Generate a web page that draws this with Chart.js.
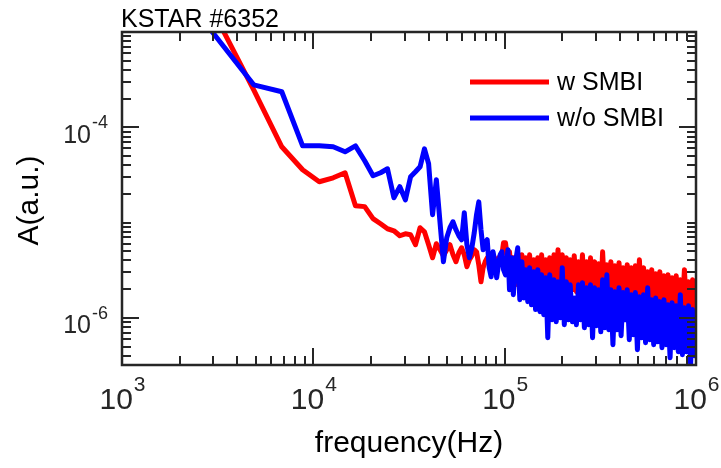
<!DOCTYPE html>
<html lang="en">
<head>
  <meta charset="UTF-8">
  <title>KSTAR #6352 spectrum</title>
  <script src="https://cdn.jsdelivr.net/npm/chart.js"></script>
  <style>
    body {
      margin: 0;
      background-color: #ffffff;
    }
    canvas {
      display: block;
    }
  </style>
</head>
<body>
  <canvas id="spectrumChart" width="721" height="468"></canvas>

  <script>
    // frequency grid in kHz (low part follows FFT bins, high part thinned out)
    const freqLow = [2.93, 4.88, 6.84, 8.79, 10.74, 12.70, 14.65, 16.60, 18.55, 20.51,
      22.46, 24.41, 26.37, 28.32, 30.27, 32.23, 34.18, 36.13, 38.09, 40.04,
      41.99, 43.95, 45.90, 47.85, 49.80, 51.76, 53.71, 55.66, 57.62, 59.57,
      61.52, 63.48, 65.43, 67.38, 69.34, 71.29, 73.24, 75.20, 77.15, 79.10,
      81.05, 83.01, 84.96, 86.91, 88.87, 90.82, 92.77, 94.73, 96.68, 98.63];
    const freqHigh = [101, 104, 106, 109, 111, 114, 117, 120, 123, 126,
      129, 132, 135, 138, 142, 145, 149, 153, 156, 160,
      164, 168, 172, 177, 181, 186, 190, 195, 200, 205,
      210, 215, 220, 226, 231, 237, 243, 249, 255, 261,
      268, 274, 281, 288, 295, 302, 310, 318, 325, 334,
      342, 350, 359, 368, 377, 386, 396, 406, 416, 426,
      437, 448, 459, 470, 482, 494, 506, 519, 532, 545,
      559, 573, 587, 601, 616, 632, 647, 664, 680, 697,
      714, 732, 750, 769, 788, 808, 828, 849, 870, 892,
      914, 937, 960, 984, 1000];

    // w SMBI (red)
    const smbiLow = [1.8e-3, 2.47e-4, 6.24e-5, 3.58e-5, 2.68e-5, 2.95e-5, 3.33e-5, 1.50e-5, 1.47e-5, 1.10e-5,
      9.71e-6, 8.61e-6, 8.20e-6, 7.27e-6, 7.62e-6, 7.45e-6, 5.85e-6, 8.82e-6, 8.0e-6, 5.85e-6,
      4.27e-6, 6.0e-6, 5.19e-6, 4.49e-6, 5.19e-6, 5.85e-6, 4.59e-6, 3.88e-6, 4.82e-6, 5.44e-6,
      4.59e-6, 3.44e-6, 4.07e-6, 4.49e-6, 5.19e-6, 4.94e-6, 3.6e-6, 2.39e-6, 3.36e-6, 3.88e-6,
      4.27e-6, 3.88e-6, 3.2e-6, 4.59e-6, 3.88e-6, 3.36e-6, 4.27e-6, 3.88e-6, 4.59e-6, 6.14e-6];
    const smbiHigh = [6.14e-6, 3.88e-6, 4.94e-6, 2.51e-6, 4.27e-6, 2.22e-6, 3.88e-6, 2.39e-6, 4.59e-6, 2.22e-6,
      4.27e-6, 2.07e-6, 4.59e-6, 2.22e-6, 4.07e-6, 2.07e-6, 4.27e-6, 2.22e-6, 4.59e-6, 1.97e-6,
      4.07e-6, 2.07e-6, 4.27e-6, 1.97e-6, 4.59e-6, 2.07e-6, 5.19e-6, 1.88e-6, 4.59e-6, 1.97e-6,
      4.27e-6, 1.88e-6, 4.07e-6, 1.97e-6, 4.49e-6, 1.88e-6, 3.88e-6, 1.97e-6, 4.59e-6, 1.75e-6,
      3.88e-6, 1.88e-6, 4.27e-6, 1.75e-6, 3.88e-6, 1.88e-6, 3.70e-6, 1.75e-6, 4.94e-6, 1.62e-6,
      3.61e-6, 1.75e-6, 3.88e-6, 1.62e-6, 3.52e-6, 1.71e-6, 3.79e-6, 1.55e-6, 3.36e-6, 1.62e-6,
      3.61e-6, 1.55e-6, 3.36e-6, 1.48e-6, 3.52e-6, 1.55e-6, 4.07e-6, 1.44e-6, 3.36e-6, 1.48e-6,
      3.05e-6, 1.37e-6, 3.20e-6, 1.44e-6, 2.91e-6, 1.37e-6, 3.05e-6, 1.31e-6, 2.77e-6, 1.08e-6,
      2.83e-6, 1.28e-6, 2.64e-6, 1.31e-6, 2.77e-6, 1.22e-6, 2.51e-6, 1.28e-6, 3.20e-6, 1.16e-6,
      2.39e-6, 1.22e-6, 2.51e-6, 1.11e-6, 2.22e-6];

    // w/o SMBI (blue)
    const noSmbiLow = [1.03e-3, 2.79e-4, 2.36e-4, 6.39e-5, 6.39e-5, 6.24e-5, 5.53e-5, 6.39e-5, 4.45e-5, 3.10e-5,
      3.33e-5, 3.67e-5, 1.82e-5, 2.38e-5, 1.73e-5, 3.03e-5, 3.41e-5, 3.85e-5, 5.94e-5, 4.14e-5,
      1.21e-5, 2.81e-5, 1.02e-5, 3.88e-6, 6.93e-6, 8.82e-6, 1.02e-5, 8.40e-6, 7.27e-6, 6.60e-6,
      1.27e-5, 5.85e-6, 4.27e-6, 5.44e-6, 7.82e-6, 1.21e-5, 1.65e-5, 8.4e-6, 5.19e-6, 6.14e-6,
      6.60e-6, 3.36e-6, 2.70e-6, 4.94e-6, 3.88e-6, 2.64e-6, 3.60e-6, 4.59e-6, 4.94e-6, 3.20e-6];
    const noSmbiHigh = [2.83e-6, 5.19e-6, 1.97e-6, 4.27e-6, 1.75e-6, 3.88e-6, 5.44e-6, 1.55e-6, 3.88e-6, 1.62e-6,
      3.20e-6, 1.48e-6, 3.36e-6, 1.37e-6, 3.05e-6, 1.22e-6, 3.20e-6, 1.16e-6, 2.83e-6, 1.08e-6,
      2.64e-6, 6.18e-7, 2.83e-6, 9.55e-7, 2.51e-6, 9.10e-7, 2.39e-6, 1.00e-6, 3.36e-6, 8.47e-7,
      2.39e-6, 9.55e-7, 2.22e-6, 9.10e-7, 1.62e-6, 8.47e-7, 2.22e-6, 9.55e-7, 2.34e-6, 7.87e-7,
      2.07e-6, 8.47e-7, 2.22e-6, 6.18e-7, 2.07e-6, 8.27e-7, 1.97e-6, 7.14e-7, 2.51e-6, 7.87e-7,
      2.83e-6, 7.50e-7, 1.97e-6, 5.22e-7, 1.88e-6, 7.50e-7, 2.07e-6, 6.49e-7, 1.84e-6, 9.55e-7,
      1.97e-6, 5.89e-7, 1.75e-6, 6.65e-7, 1.84e-6, 4.63e-7, 1.67e-6, 6.18e-7, 1.75e-6, 5.48e-7,
      2.07e-6, 5.89e-7, 1.55e-6, 5.22e-7, 1.62e-6, 5.61e-7, 1.48e-6, 4.86e-7, 1.55e-6, 5.22e-7,
      1.37e-6, 3.81e-7, 1.44e-6, 4.86e-7, 1.34e-6, 4.41e-7, 1.75e-6, 4.10e-7, 1.28e-6, 4.41e-7,
      1.34e-6, 3.2e-7, 1.22e-6, 4.00e-7, 1.16e-6];

    const xTickValues = [1e3, 1e4, 1e5, 1e6];
    const xTickExps = ['3', '4', '5', '6'];
    const yTickValues = [1e-4, 1e-6];
    const yTickExps = ['-4', '-6'];

    const FONT = '"Liberation Sans", Arial, sans-serif';
    const AXIS_COLOR = '#262626';

    function toPoints(freqs, vals) {
      return freqs.map((f, i) => ({ x: f * 1000, y: vals[i] }));
    }
    const freqAll = freqLow.concat(freqHigh);

    // frame, inward ticks, superscript labels, legend
    const decoPlugin = {
      id: 'deco',
      afterDraw(chart) {
        const ctx = chart.ctx;
        const a = chart.chartArea;
        const xs = chart.scales.x;
        const ys = chart.scales.y;
        ctx.save();
        ctx.strokeStyle = AXIS_COLOR;
        ctx.lineWidth = 2;

        // x ticks
        for (let d = 3; d <= 6; d++) {
          for (let k = 1; k <= 9; k++) {
            const v = k * Math.pow(10, d);
            if (v > 1e6 * 1.0001) break;
            const px = Math.round(xs.getPixelForValue(v));
            const len = k === 1 ? 17 : 9;
            ctx.beginPath();
            ctx.moveTo(px, a.bottom); ctx.lineTo(px, a.bottom - len);
            ctx.moveTo(px, a.top); ctx.lineTo(px, a.top + len);
            ctx.stroke();
          }
        }
        // y ticks: major only at labelled decades
        for (let d = -7; d <= -3; d++) {
          for (let k = 1; k <= 9; k++) {
            const v = k * Math.pow(10, d);
            if (v < ys.min || v > ys.max * 1.0001) continue;
            const py = Math.round(ys.getPixelForValue(v));
            const len = (k === 1 && (d === -4 || d === -6)) ? 17 : 9;
            ctx.beginPath();
            ctx.moveTo(a.left, py); ctx.lineTo(a.left + len, py);
            ctx.moveTo(a.right, py); ctx.lineTo(a.right - len, py);
            ctx.stroke();
          }
        }

        // box
        ctx.lineWidth = 2.5;
        ctx.strokeRect(a.left, a.top, a.right - a.left, a.bottom - a.top);

        // x tick labels
        ctx.fillStyle = '#262626';
        ctx.textBaseline = 'alphabetic';
        ctx.textAlign = 'left';
        xTickValues.forEach((v, i) => {
          const px = xs.getPixelForValue(v);
          ctx.font = '30px ' + FONT;
          const wb = ctx.measureText('10').width;
          ctx.font = '21px ' + FONT;
          const we = ctx.measureText(xTickExps[i]).width;
          const x0 = px - (wb + we) / 2;
          ctx.font = '30px ' + FONT;
          ctx.fillText('10', x0, 409);
          ctx.font = '21px ' + FONT;
          ctx.fillText(xTickExps[i], x0 + wb + 1, 391);
        });

        // y tick labels
        yTickValues.forEach((v, i) => {
          const py = ys.getPixelForValue(v);
          ctx.font = '18px ' + FONT;
          const we = ctx.measureText(yTickExps[i]).width;
          ctx.font = '25px ' + FONT;
          const wb = ctx.measureText('10').width;
          const x1 = 108;
          ctx.fillText('10', x1 - we - wb - 1, py + 15.5);
          ctx.font = '18px ' + FONT;
          ctx.fillText(yTickExps[i], x1 - we, py + 1);
        });

        // axis titles
        ctx.fillStyle = '#000000';
        ctx.font = '30px ' + FONT;
        ctx.textAlign = 'center';
        ctx.fillText('frequency(Hz)', (a.left + a.right) / 2, 452);
        ctx.save();
        ctx.translate(38, (a.top + a.bottom) / 2 + 2);
        ctx.rotate(-Math.PI / 2);
        ctx.fillText('A(a.u.)', 0, 0);
        ctx.restore();

        // title
        ctx.textAlign = 'left';
        ctx.font = '25px ' + FONT;
        ctx.fillText('KSTAR #6352', 121, 27);

        // legend
        const rows = [chart.data.datasets[0], chart.data.datasets[1]];
        const rowY = [82, 118];
        ctx.textBaseline = 'middle';
        ctx.font = '25px ' + FONT;
        rows.forEach((ds, i) => {
          ctx.strokeStyle = ds.borderColor;
          ctx.lineWidth = 5;
          ctx.beginPath();
          ctx.moveTo(470, rowY[i]);
          ctx.lineTo(549, rowY[i]);
          ctx.stroke();
          ctx.fillStyle = '#000000';
          ctx.fillText(ds.label, 557, rowY[i] + 1);
        });
        ctx.restore();
      }
    };

    const ctx = document.getElementById('spectrumChart').getContext('2d');
    const chart = new Chart(ctx, {
      type: 'line',
      data: {
        datasets: [
          {
            label: 'w SMBI',
            data: toPoints(freqAll, smbiLow.concat(smbiHigh)),
            borderColor: '#ff0000',
            borderWidth: 5,
            pointRadius: 0,
            borderJoinStyle: 'round',
            order: 1
          },
          {
            label: 'w/o SMBI',
            data: toPoints(freqAll, noSmbiLow.concat(noSmbiHigh)),
            borderColor: '#0000ff',
            borderWidth: 5,
            pointRadius: 0,
            borderJoinStyle: 'round',
            order: 0
          }
        ]
      },
      options: {
        responsive: false,
        animation: false,
        devicePixelRatio: 1,
        layout: {
          padding: { left: 122, right: 25, top: 32, bottom: 103 }
        },
        plugins: {
          legend: { display: false },
          tooltip: { enabled: false }
        },
        scales: {
          x: {
            type: 'logarithmic',
            min: 1e3,
            max: 1e6,
            display: false
          },
          y: {
            type: 'logarithmic',
            min: 3.2e-7,
            max: 1e-3,
            display: false
          }
        }
      },
      plugins: [decoPlugin]
    });
  </script>
</body>
</html>
